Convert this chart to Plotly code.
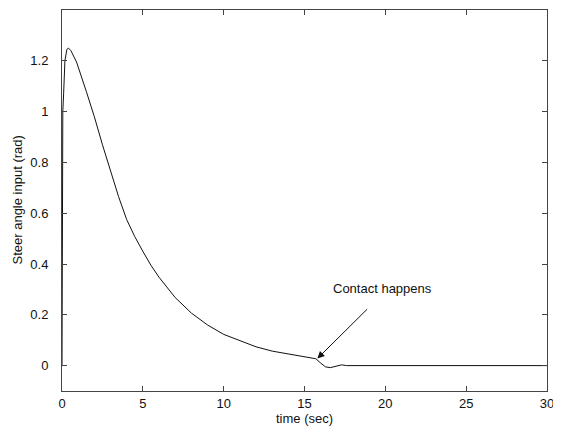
import plotly.graph_objects as go

# ── Data ───────────────────────────────────────────────────────────────────────
time_s = [0, 0.05, 0.1, 0.18, 0.3, 0.4, 0.55, 0.9, 1.5, 2, 2.5, 3, 3.5, 4, 4.5, 5, 5.5, 6, 7, 8,
          9, 10, 11, 12, 13, 14, 15, 15.7, 16.0, 16.3, 16.6, 17.0, 17.3, 17.6, 20, 25, 30]
steer_rad = [0.0, 1.0, 1.07, 1.2, 1.245, 1.25, 1.24, 1.195, 1.08, 0.98, 0.87, 0.77, 0.665,
             0.575, 0.508, 0.45, 0.395, 0.348, 0.268, 0.207, 0.16, 0.123, 0.097, 0.074, 0.057,
             0.045, 0.034, 0.027, 0.01, -0.005, -0.008, -0.002, 0.003, 0.0, 0.0, 0.0, 0.0]

x_ticks = [0, 5, 10, 15, 20, 25, 30]
y_ticks = [0, 0.2, 0.4, 0.6, 0.8, 1, 1.2]
y_tick_labels = ["0", "0.2", "0.4", "0.6", "0.8", "1", "1.2"]

FONT = "Liberation Sans, Arial, sans-serif"
AXIS_STYLE = dict(
    showgrid=False, zeroline=False,
    showline=True, linecolor="#444", linewidth=1, mirror="ticks",
    ticks="inside", ticklen=5, tickcolor="#444",
    tickfont=dict(family=FONT, size=13, color="#111"),
)

# page body adds an 8px margin, so the figure is sized to fit inside it
W, H = 553, 424
L, R, T, B = 54, 14, 2, 41
PW, PH = W - L - R, H - T - B

fig = go.Figure()
fig.add_trace(go.Scatter(
    x=time_s, y=steer_rad, mode="lines",
    line=dict(color="#111", width=1), showlegend=False,
))

fig.update_xaxes(range=[0, 30], tickvals=x_ticks, **AXIS_STYLE)
fig.update_yaxes(range=[-0.1, 1.4], tickvals=y_ticks, ticktext=y_tick_labels,
                 ticklabelstandoff=10, **AXIS_STYLE)

# arrow pointing at the contact moment
fig.add_annotation(
    x=15.8, y=0.028, ax=18.97, ay=0.228, xref="x", yref="y", axref="x", ayref="y",
    text="", showarrow=True, arrowhead=2, arrowsize=1.4, arrowwidth=1, arrowcolor="#111",
)
fig.add_annotation(
    x=19.8, y=0.303, xref="x", yref="y", text="Contact happens", showarrow=False,
    font=dict(family=FONT, size=13, color="#111"),
)

# axis titles
fig.add_annotation(
    x=(9 - L) / PW, y=0.5, xref="paper", yref="paper", text="Steer angle input (rad)",
    textangle=-90, showarrow=False, xanchor="center", yanchor="middle",
    font=dict(family=FONT, size=13, color="#111"),
)
fig.add_annotation(
    x=0.5, y=-27 / PH, xref="paper", yref="paper", text="time (sec)", showarrow=False,
    xanchor="center", yanchor="middle", font=dict(family=FONT, size=13, color="#111"),
)

fig.update_layout(
    width=W, height=H,
    margin=dict(l=L, r=R, t=T, b=B),
    paper_bgcolor="white", plot_bgcolor="white",
    font=dict(family=FONT, size=13, color="#111"),
)

fig.write_html("out.html")
